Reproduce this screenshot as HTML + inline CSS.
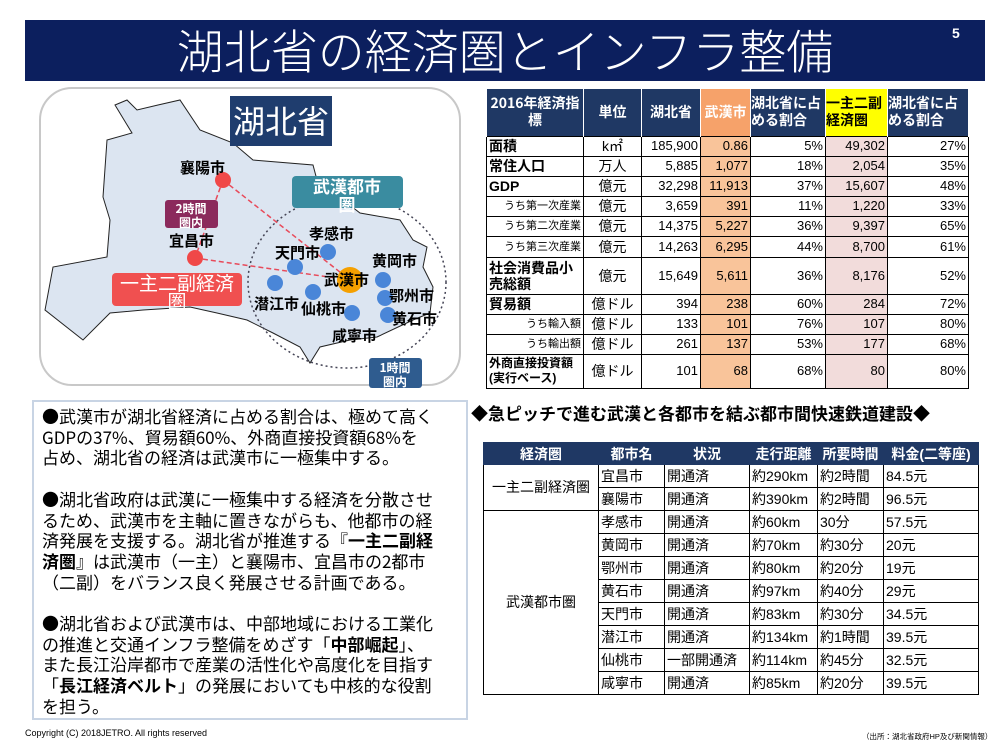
<!DOCTYPE html>
<html><head><meta charset="utf-8">
<style>
*{box-sizing:border-box;margin:0;padding:0}
body{width:996px;height:744px;background:#fff;position:relative;overflow:hidden;font-family:"Liberation Sans","Noto Sans CJK JP",sans-serif;color:#000}
.abs{position:absolute}
#title-bar{left:25px;top:20px;width:960px;height:61px;background:#0c1f5e}
#title{left:25px;top:18px;width:960px;height:61px;color:#fff;font-size:47px;line-height:61px;text-align:center;font-weight:300;font-family:"Noto Sans CJK JP",sans-serif}
#pno{left:952px;top:25px;color:#fff;font-size:14px;font-weight:bold}
table{border-collapse:collapse;table-layout:fixed;position:absolute}
td,th{border:1px solid #000;overflow:hidden;white-space:nowrap}
#t1{left:486px;top:89px;width:482px;font-size:13px}
#t1 th{background:#1f3864;color:#fff;font-size:14px;line-height:17px;white-space:normal;border-color:#fff;border-width:0 1px;font-weight:bold;font-family:"Noto Sans CJK JP",sans-serif;word-break:break-all}
#t1 td{height:20px;line-height:18px;padding:0 2px}
#t1 td.n{text-align:right}
#t1 td.w{background:#f9c49a}
#t1 td.p{background:#f2dcdb}
#t1 td.h{font-weight:bold;font-size:14px}
#t1 td.s{font-size:11px;text-align:right;padding-right:2px}
#t1 td.u{text-align:center;font-size:14px}
#t2{left:483px;top:442px;width:495px;font-size:14px}
#t2 th{background:#1f3864;color:#fff;height:22px;font-size:14px;border-color:#1f3864}
#t2 td{height:23px;line-height:21px;padding:0 2px}
#t2 td.g{text-align:center}
#summary-text p{white-space:nowrap}
</style></head><body>
<div id="title-bar" class="abs"></div>
<div id="title" class="abs">湖北省の経済圏とインフラ整備</div>
<div id="pno" class="abs">5</div>

<svg class="abs" style="left:0;top:0" width="470" height="395">
 <rect x="40" y="88" width="420" height="297" rx="32" fill="#fff" stroke="#c8c8c8" stroke-width="2"/>
 <polygon fill="#dce5f1" stroke="#222" stroke-width="1" points="115,105 127,100 137,110 158,105 180,100 200,130 233,143 253,160 313,165 317,180 360,213 400,220 413,240 427,247 423,267 433,287 430,313 413,320 377,337 350,340 320,347 310,363 300,347 273,333 247,320 217,313 190,307 143,310 110,313 83,340 45,310 53,267 107,257 110,220 103,197 107,140 132,133"/>
 <ellipse cx="347" cy="282" rx="99" ry="86" fill="none" stroke="#445" stroke-width="1.5" stroke-dasharray="2,3"/>
 <g stroke="#e84a5a" stroke-width="1.5" stroke-dasharray="5,3" fill="none">
  <line x1="223" y1="180" x2="195" y2="258"/><line x1="223" y1="180" x2="350" y2="280"/><line x1="195" y1="258" x2="350" y2="280"/>
 </g>
 <g fill="#4a86d8">
  <circle cx="328" cy="252" r="8"/><circle cx="295" cy="267" r="8"/><circle cx="275" cy="283" r="8"/><circle cx="313" cy="292" r="8"/><circle cx="352" cy="313" r="8"/><circle cx="383" cy="280" r="8"/><circle cx="385" cy="298" r="8"/><circle cx="388" cy="315" r="8"/>
 </g>
 <circle cx="223" cy="180" r="8" fill="#f04848"/>
 <circle cx="195" cy="258" r="8" fill="#f04848"/>
 <circle cx="350" cy="280" r="13" fill="#f5a000"/>
 <rect x="230" y="96" width="102" height="50" fill="#1f3d6e"/>
 <text x="281" y="133" fill="#fff" font-size="32" text-anchor="middle" font-family="Noto Sans CJK JP">湖北省</text>
 <rect x="292" y="176" width="111" height="32" rx="4" fill="#3a8ca0"/>
 <text x="347" y="193" fill="#fff" font-size="17" font-weight="bold" text-anchor="middle" font-family="Noto Sans CJK JP">武漢都市</text>
 <text x="347" y="211" fill="#fff" font-size="17" font-weight="bold" text-anchor="middle" font-family="Noto Sans CJK JP">圏</text>
 <rect x="165" y="200" width="53" height="28" rx="3" fill="#8b2a5c"/>
 <text x="191" y="213" fill="#fff" font-size="12" font-weight="bold" text-anchor="middle" font-family="Noto Sans CJK JP">2時間</text>
 <text x="191" y="227" fill="#fff" font-size="12" font-weight="bold" text-anchor="middle" font-family="Noto Sans CJK JP">圏内</text>
 <rect x="112" y="273" width="130" height="33" rx="4" fill="#f05050"/>
 <text x="177" y="290" fill="#fff" font-size="19" text-anchor="middle" font-family="Noto Sans CJK JP">一主二副経済</text>
 <text x="177" y="308" fill="#fff" font-size="19" text-anchor="middle" font-family="Noto Sans CJK JP">圏</text>
 <rect x="369" y="358" width="53" height="30" rx="3" fill="#2f5c8f"/>
 <text x="395" y="372" fill="#fff" font-size="12" font-weight="bold" text-anchor="middle" font-family="Noto Sans CJK JP">1時間</text>
 <text x="395" y="386" fill="#fff" font-size="12" font-weight="bold" text-anchor="middle" font-family="Noto Sans CJK JP">圏内</text>
 <g font-size="15" font-weight="bold" font-family="Noto Sans CJK JP" fill="#000">
  <text x="180" y="173">襄陽市</text><text x="169" y="246">宜昌市</text><text x="309" y="239">孝感市</text><text x="275" y="258">天門市</text><text x="324" y="285">武漢市</text><text x="372" y="266">黄岡市</text><text x="389" y="301">鄂州市</text><text x="254" y="309">潜江市</text><text x="301" y="314">仙桃市</text><text x="392" y="324">黄石市</text><text x="332" y="341">咸寧市</text>
 </g>
</svg>

<table id="t1">
<colgroup><col style="width:97px"><col style="width:58px"><col style="width:59px"><col style="width:50px"><col style="width:75px"><col style="width:62px"><col style="width:81px"></colgroup>
<tr style="height:47px"><th>2016年経済指標</th><th>単位</th><th>湖北省</th><th style="background:#f6a26a">武漢市</th><th style="text-align:left">湖北省に占める割合</th><th style="background:#ffff00;color:#000;text-align:left">一主二副経済圏</th><th style="text-align:left">湖北省に占める割合</th></tr>
<tr><td class="h">面積</td><td class="u">k㎡</td><td class="n">185,900</td><td class="n w">0.86</td><td class="n">5%</td><td class="n p">49,302</td><td class="n">27%</td></tr>
<tr><td class="h">常住人口</td><td class="u">万人</td><td class="n">5,885</td><td class="n w">1,077</td><td class="n">18%</td><td class="n p">2,054</td><td class="n">35%</td></tr>
<tr><td class="h">GDP</td><td class="u">億元</td><td class="n">32,298</td><td class="n w">11,913</td><td class="n">37%</td><td class="n p">15,607</td><td class="n">48%</td></tr>
<tr><td class="s">うち第一次産業</td><td class="u">億元</td><td class="n">3,659</td><td class="n w">391</td><td class="n">11%</td><td class="n p">1,220</td><td class="n">33%</td></tr>
<tr><td class="s">うち第二次産業</td><td class="u">億元</td><td class="n">14,375</td><td class="n w">5,227</td><td class="n">36%</td><td class="n p">9,397</td><td class="n">65%</td></tr>
<tr style="height:21px"><td class="s">うち第三次産業</td><td class="u">億元</td><td class="n">14,263</td><td class="n w">6,295</td><td class="n">44%</td><td class="n p">8,700</td><td class="n">61%</td></tr>
<tr style="height:37px"><td class="h" style="white-space:normal;line-height:16px">社会消費品小売総額</td><td class="u">億元</td><td class="n">15,649</td><td class="n w">5,611</td><td class="n">36%</td><td class="n p">8,176</td><td class="n">52%</td></tr>
<tr><td class="h">貿易額</td><td class="u">億ドル</td><td class="n">394</td><td class="n w">238</td><td class="n">60%</td><td class="n p">284</td><td class="n">72%</td></tr>
<tr><td class="s">うち輸入額</td><td class="u">億ドル</td><td class="n">133</td><td class="n w">101</td><td class="n">76%</td><td class="n p">107</td><td class="n">80%</td></tr>
<tr><td class="s">うち輸出額</td><td class="u">億ドル</td><td class="n">261</td><td class="n w">137</td><td class="n">53%</td><td class="n p">177</td><td class="n">68%</td></tr>
<tr style="height:34px"><td class="h" style="white-space:normal;line-height:15px;font-size:12px">外商直接投資額(実行ベース)</td><td class="u">億ドル</td><td class="n">101</td><td class="n w">68</td><td class="n">68%</td><td class="n p">80</td><td class="n">80%</td></tr>
</table>

<div class="abs" style="left:32px;top:400px;width:436px;height:320px;border:2px solid #c8d4e4"></div>
<div id="summary-text" class="abs" style="left:42px;top:406px;width:424px;font-size:17px;line-height:20.7px;font-family:'Noto Sans CJK JP',sans-serif">
<p>●武漢市が湖北省経済に占める割合は、極めて高く</p>
<p>GDPの37%、貿易額60%、外商直接投資額68%を</p>
<p>占め、湖北省の経済は武漢市に一極集中する。</p>
<p style="margin-top:20.7px">●湖北省政府は武漢に一極集中する経済を分散させ</p>
<p>るため、武漢市を主軸に置きながらも、他都市の経</p>
<p>済発展を支援する。湖北省が推進する『<b>一主二副経</b></p>
<p><b>済圏</b>』は武漢市（一主）と襄陽市、宜昌市の2都市</p>
<p>（二副）をバランス良く発展させる計画である。</p>
<p style="margin-top:20.7px">●湖北省および武漢市は、中部地域における工業化</p>
<p>の推進と交通インフラ整備をめざす「<b>中部崛起</b>」、</p>
<p>また長江沿岸都市で産業の活性化や高度化を目指す</p>
<p>「<b>長江経済ベルト</b>」の発展においても中核的な役割</p>
<p>を担う。</p>
</div>

<div class="abs" style="left:471px;top:400px;font-size:17px;font-weight:bold;white-space:nowrap;font-family:'Noto Sans CJK JP',sans-serif">◆急ピッチで進む武漢と各都市を結ぶ都市間快速鉄道建設◆</div>

<table id="t2">
<colgroup><col style="width:115px"><col style="width:66px"><col style="width:85px"><col style="width:68px"><col style="width:66px"><col style="width:95px"></colgroup>
<tr><th>経済圏</th><th>都市名</th><th>状況</th><th>走行距離</th><th>所要時間</th><th>料金(二等座)</th></tr>
<tr><td class="g" rowspan="2">一主二副経済圏</td><td>宜昌市</td><td>開通済</td><td>約290km</td><td>約2時間</td><td>84.5元</td></tr>
<tr><td>襄陽市</td><td>開通済</td><td>約390km</td><td>約2時間</td><td>96.5元</td></tr>
<tr><td class="g" rowspan="8">武漢都市圏</td><td>孝感市</td><td>開通済</td><td>約60km</td><td>30分</td><td>57.5元</td></tr>
<tr><td>黄岡市</td><td>開通済</td><td>約70km</td><td>約30分</td><td>20元</td></tr>
<tr><td>鄂州市</td><td>開通済</td><td>約80km</td><td>約20分</td><td>19元</td></tr>
<tr><td>黄石市</td><td>開通済</td><td>約97km</td><td>約40分</td><td>29元</td></tr>
<tr><td>天門市</td><td>開通済</td><td>約83km</td><td>約30分</td><td>34.5元</td></tr>
<tr><td>潜江市</td><td>開通済</td><td>約134km</td><td>約1時間</td><td>39.5元</td></tr>
<tr><td>仙桃市</td><td>一部開通済</td><td>約114km</td><td>約45分</td><td>32.5元</td></tr>
<tr><td>咸寧市</td><td>開通済</td><td>約85km</td><td>約20分</td><td>39.5元</td></tr>
</table>

<div class="abs" style="left:25px;top:728px;font-size:9px">Copyright (C) 2018JETRO. All rights reserved</div>
<div class="abs" style="left:862px;top:731px;font-size:7.5px;white-space:nowrap">（出所：湖北省政府HP及び新聞情報）</div>
</body></html>
